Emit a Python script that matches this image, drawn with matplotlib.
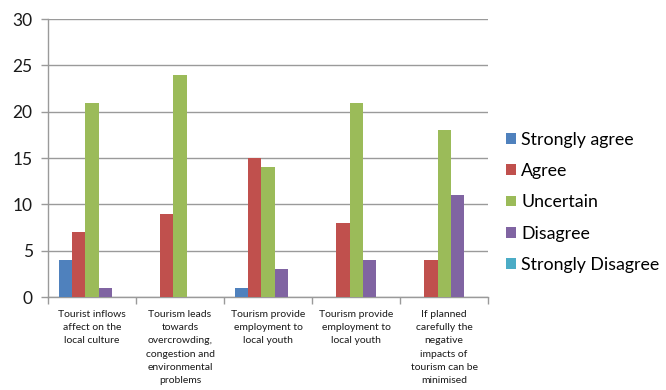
import matplotlib
matplotlib.use("Agg")
import matplotlib.pyplot as plt
import numpy as np

categories = [
    "Tourist inflows\naffect on the\nlocal culture",
    "Tourism leads\ntowards\novercrowding,\ncongestion and\nenvironmental\nproblems",
    "Tourism provide\nemployment to\nlocal youth",
    "Tourism provide\nemployment to\nlocal youth",
    "If planned\ncarefully the\nnegative\nimpacts of\ntourism can be\nminimised",
]
series_names = ["Strongly agree", "Agree", "Uncertain", "Disagree", "Strongly Disagree"]
strongly_agree = [4, 0, 1, 0, 0]
agree = [7, 9, 15, 8, 4]
uncertain = [21, 24, 14, 21, 18]
disagree = [1, 0, 3, 4, 11]
strongly_disagree = [0, 0, 0, 0, 0]
y_ticks = [0, 5, 10, 15, 20, 25, 30]

colors = ["#4F81BD", "#C0504D", "#9BBB59", "#8064A2", "#4BACC6"]
values = [strongly_agree, agree, uncertain, disagree, strongly_disagree]

plt.rcParams["font.family"] = ["Lato", "DejaVu Sans"]

fig = plt.figure(figsize=(6.66, 3.9), dpi=100)
ax = fig.add_axes([0.072, 0.238, 0.661, 0.713])

x = np.arange(len(categories))
width = 0.15
offsets = (np.arange(5) - 2) * width
for vals, name, col, off in zip(values, series_names, colors, offsets):
    ax.bar(x + off, vals, width, color=col, label=name, zorder=3)

ax.set_xlim(-0.5, len(categories) - 0.5)
ax.set_ylim(0, 30)
ax.set_yticks(y_ticks)
ax.set_yticklabels([str(t) for t in y_ticks], fontsize=12.5, color="#1a1a1a")
ax.yaxis.grid(True, color="#9a9a9a", linewidth=1.0, zorder=0)
ax.tick_params(axis="y", length=5, color="#9a9a9a", width=1.0, pad=6)

ax.set_xticks(np.arange(len(categories) + 1) - 0.5)
ax.set_xticklabels([])
ax.tick_params(axis="x", length=5, color="#9a9a9a", width=1.0)
for xi, lab in zip(x, categories):
    ax.text(xi, -1.35, lab, ha="center", va="top", fontsize=7.5, color="#1a1a1a",
            linespacing=1.62, transform=ax.transData)

for s in ["top", "right"]:
    ax.spines[s].set_visible(False)
ax.spines["left"].set_color("#9a9a9a")
ax.spines["bottom"].set_color("#9a9a9a")
ax.spines["left"].set_linewidth(1.0)
ax.spines["bottom"].set_linewidth(1.0)

leg = fig.legend(loc="upper left", bbox_to_anchor=(0.736, 0.703), frameon=False,
                 fontsize=12.8, handlelength=0.55, handleheight=0.55,
                 handletextpad=0.3, labelspacing=0.86)

fig.savefig("out.png", dpi=100)
